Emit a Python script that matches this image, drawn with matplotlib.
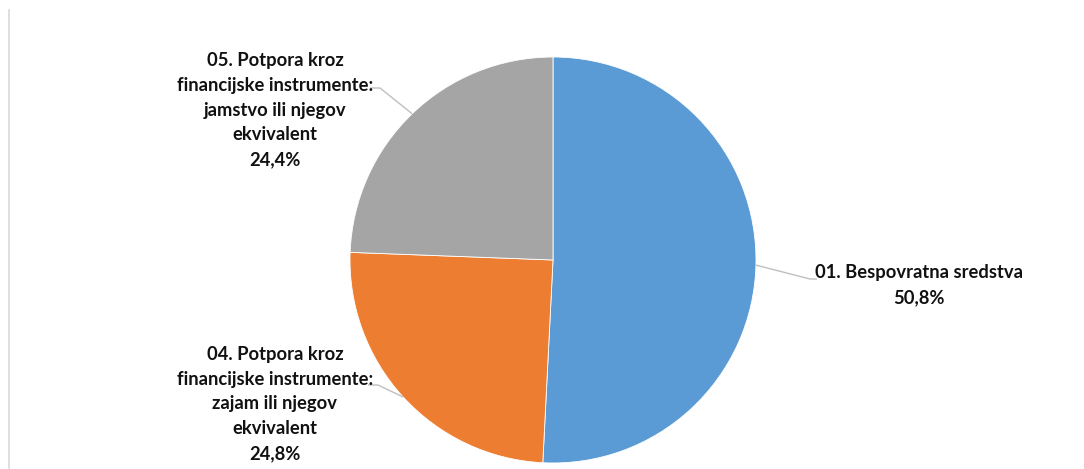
import matplotlib
matplotlib.use("Agg")
import matplotlib.pyplot as plt
import numpy as np
from matplotlib.lines import Line2D

categories = ["01. Bespovratna sredstva",
              "04. Potpora kroz\nfinancijske instrumente:\nzajam ili njegov\nekvivalent",
              "05. Potpora kroz\nfinancijske instrumente:\njamstvo ili njegov\nekvivalent"]
values = [50.8, 24.8, 24.4]
pct_labels = ["50,8%", "24,8%", "24,4%"]
colors = ["#5B9BD5", "#ED7D31", "#A5A5A5"]

W, H = 1084, 469
cx, cy, R = 553, 260, 203

fig = plt.figure(figsize=(W/100, H/100), dpi=100)
ax = fig.add_axes([0, 0, 1, 1])
wedges, _ = ax.pie(values, colors=colors, startangle=90, counterclock=False,
                   radius=1.0, wedgeprops=dict(edgecolor="white", linewidth=0.6))
ax.set_xlim(-cx/R, (W-cx)/R)
ax.set_ylim(-(H-cy)/R, cy/R)
ax.set_aspect("equal")
ax.axis("off")

def d(px, py):
    return (px-cx)/R, (cy-py)/R

# label layout: (text center px, elbow px, end px)
layout = [
    dict(text=(919, 285), elbow=(810, 279), end=(817, 279)),
    dict(text=(275, 404), elbow=(378, 385), end=(368, 385)),
    dict(text=(275, 110), elbow=(380, 88), end=(370, 88)),
]
font = dict(family=["Lato", "DejaVu Sans"], fontweight="bold", fontsize=13.2, color="#111111")
for w, cat, pct, lay in zip(wedges, categories, pct_labels, layout):
    ang = np.deg2rad((w.theta1 + w.theta2) / 2)
    px, py = np.cos(ang), np.sin(ang)
    ex, ey = d(*lay["elbow"])
    nx, ny = d(*lay["end"])
    ax.plot([px, ex, nx], [py, ey, ny], color="#BFBFBF", lw=1.0, solid_capstyle="butt")
    tx, ty = d(*lay["text"])
    ax.text(tx, ty, cat + "\n" + pct, ha="center", va="center", multialignment="center",
            linespacing=1.55, **font)

fig.add_artist(Line2D([8.5/W, 8.5/W], [1-10/H, 1-468/H], color="#D9D9D9", lw=1.2))
fig.savefig("out.png", dpi=100, facecolor="white")
